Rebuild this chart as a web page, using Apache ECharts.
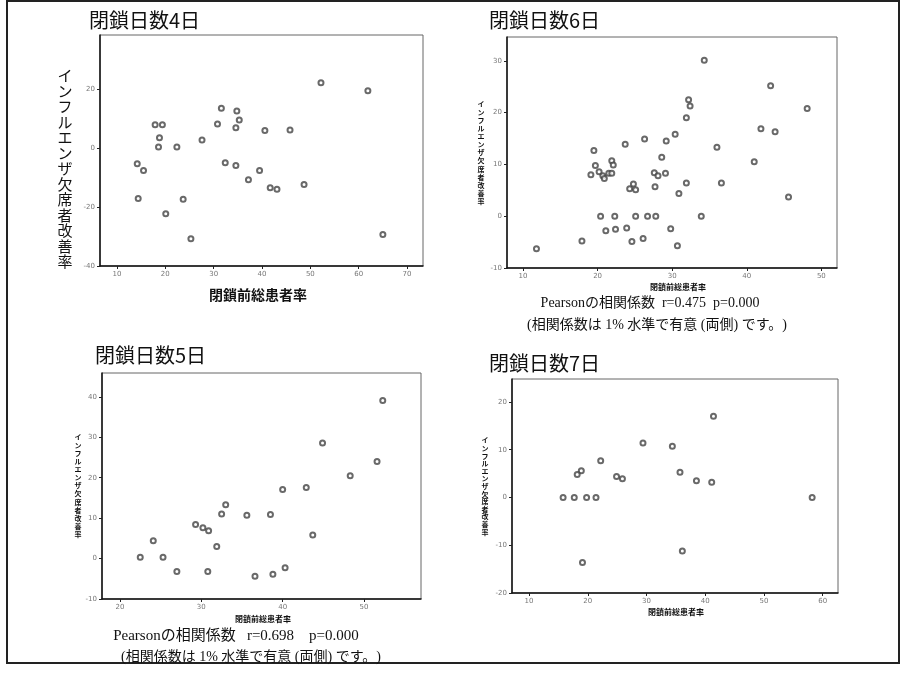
<!DOCTYPE html>
<html><head><meta charset="utf-8">
<script src="https://cdn.jsdelivr.net/npm/echarts@6/dist/echarts.min.js"></script>
<style>html,body{margin:0;padding:0;background:#fff}#c{width:906px;height:675px}</style>
</head><body><div id="c"></div>
<script>
// ---- data ----
const titles = ['閉鎖日数4日', '閉鎖日数6日', '閉鎖日数5日', '閉鎖日数7日'];
const yName = 'インフルエンザ欠席者改善率';
const xName = '閉鎖前総患者率';
const pearson6 = 'Pearsonの相関係数  r=0.475  p=0.000';
const pearson5 = 'Pearsonの相関係数   r=0.698    p=0.000';
const signif = '(相関係数は 1% 水準で有意 (両側) です。)';

const day4X = [52.2, 61.9, 31.6, 34.8, 35.3, 17.9, 19.4, 30.8, 34.6, 40.6, 45.8, 18.8, 27.6, 18.6, 22.4, 14.2, 15.5, 32.4, 34.6, 39.5, 37.2, 41.7, 43.1, 48.7, 14.4, 23.7, 20.1, 25.3, 65.0];
const day4Y = [22.1, 19.4, 13.5, 12.5, 9.5, 7.9, 7.9, 8.1, 6.9, 5.9, 6.1, 3.5, 2.7, 0.3, 0.3, -5.3, -7.6, -5.0, -5.9, -7.6, -10.8, -13.5, -14.0, -12.4, -17.1, -17.4, -22.3, -30.8, -29.3];
const day4XTicks = [10, 20, 30, 40, 50, 60, 70];
const day4YTicks = [-40, -20, 0, 20];

const day6X = [34.3, 43.2, 32.2, 32.4, 48.1, 31.9, 41.9, 43.8, 30.4, 26.3, 23.7, 29.2, 36.0, 19.5, 28.6, 21.9, 19.7, 22.1, 41.0, 19.1, 20.2, 20.7, 21.5, 21.9, 20.9, 27.6, 28.1, 29.1, 31.9, 36.6, 24.8, 24.3, 25.1, 27.7, 30.9, 45.6, 20.4, 22.3, 25.1, 26.7, 27.8, 33.9, 21.1, 22.4, 23.9, 29.8, 17.9, 24.6, 26.1, 30.7, 11.8];
const day6Y = [30.1, 25.2, 22.5, 21.3, 20.8, 19.0, 16.9, 16.3, 15.8, 14.9, 13.9, 14.5, 13.3, 12.7, 11.4, 10.7, 9.8, 9.9, 10.5, 8.0, 8.6, 7.8, 8.3, 8.3, 7.3, 8.4, 7.8, 8.3, 6.4, 6.4, 6.2, 5.3, 5.1, 5.7, 4.4, 3.7, 0, 0, 0, 0, 0, 0, -2.8, -2.5, -2.3, -2.4, -4.8, -4.9, -4.3, -5.7, -6.3];
const day6XTicks = [10, 20, 30, 40, 50];
const day6YTicks = [-10, 0, 10, 20, 30];

const day5X = [52.3, 44.9, 51.6, 48.3, 40.0, 42.9, 33.0, 32.5, 35.6, 38.5, 29.3, 30.2, 30.9, 43.7, 24.1, 31.9, 22.5, 25.3, 27.0, 30.8, 36.6, 38.8, 40.3];
const day5Y = [39.1, 28.6, 24.0, 20.5, 17.1, 17.6, 13.3, 11.0, 10.7, 10.9, 8.4, 7.6, 6.9, 5.8, 4.4, 3.0, 0.3, 0.3, -3.2, -3.2, -4.4, -3.9, -2.3];
const day5XTicks = [20, 30, 40, 50];
const day5YTicks = [-10, 0, 10, 20, 30, 40];

const day7X = [41.4, 29.4, 34.4, 22.2, 18.9, 18.2, 24.9, 25.9, 35.7, 38.5, 41.1, 15.8, 17.7, 19.8, 21.4, 58.2, 36.1, 19.1];
const day7Y = [17.0, 11.4, 10.7, 7.7, 5.6, 4.8, 4.4, 3.9, 5.3, 3.5, 3.2, 0, 0, 0, 0, 0, -11.2, -13.6];
const day7XTicks = [10, 20, 30, 40, 50, 60];
const day7YTicks = [-20, -10, 0, 10, 20];

// ---- layout ----
const panels = [
  {x: day4X, y: day4Y, xt: day4XTicks, yt: day4YTicks, grid: {left: 100, top: 35, width: 323, height: 231}, xr: [6.5, 73.3], yr: [-40, 38.3], title: [84, 5]},
  {x: day6X, y: day6Y, xt: day6XTicks, yt: day6YTicks, grid: {left: 507, top: 37, width: 330, height: 231}, xr: [7.85, 52.1], yr: [-10, 34.6], title: [484, 5]},
  {x: day5X, y: day5Y, xt: day5XTicks, yt: day5YTicks, grid: {left: 102, top: 373, width: 319, height: 226}, xr: [17.8, 57.0], yr: [-10, 45.9], title: [90, 340]},
  {x: day7X, y: day7Y, xt: day7XTicks, yt: day7YTicks, grid: {left: 512, top: 379, width: 326, height: 214}, xr: [7.1, 62.6], yr: [-20, 24.8], title: [484, 348]}
];

const axisCommon = (ticks) => ({
  type: 'value',
  splitLine: {show: false},
  axisLine: {show: true, onZero: false, lineStyle: {color: '#111', width: 1.5}},
  axisTick: {show: true, length: 3, lineStyle: {color: '#222'}, customValues: ticks},
  axisLabel: {show: true, fontSize: 7, color: '#777', margin: 5, customValues: ticks, fontFamily: 'DejaVu Sans'}
});

const grids = [], xAxes = [], yAxes = [], series = [], title = [];
panels.forEach((p, i) => {
  grids.push(Object.assign({show: true, borderColor: '#666', borderWidth: 1, backgroundColor: 'transparent'}, p.grid));
  xAxes.push(Object.assign(axisCommon(p.xt), {gridIndex: i, min: p.xr[0], max: p.xr[1]}));
  yAxes.push(Object.assign(axisCommon(p.yt), {gridIndex: i, min: p.yr[0], max: p.yr[1]}));
  series.push({
    type: 'scatter', xAxisIndex: i, yAxisIndex: i,
    symbol: 'emptyCircle', symbolSize: 5,
    itemStyle: {color: '#444', borderWidth: 1},
    data: p.x.map((v, k) => [v, p.y[k]])
  });
  title.push({text: titles[i], left: p.title[0], top: p.title[1],
    textStyle: {fontSize: 20, fontWeight: 'normal', color: '#111', fontFamily: 'Noto Sans CJK JP'}});
});

const vText = (x, y, size, lh, bold) => ({
  type: 'text', x: x, y: y,
  style: {text: yName.split('').join('\n'), fill: '#111', align: 'center', verticalAlign: 'top',
    font: (bold ? 'bold ' : '') + size + 'px "Noto Sans CJK JP"', lineHeight: lh}
});
const hText = (txt, x, y, size, opts) => ({
  type: 'text', x: x, y: y,
  style: Object.assign({text: txt, fill: '#111', align: 'center', verticalAlign: 'middle',
    font: size + 'px "Liberation Serif", "Noto Sans CJK JP"'}, opts || {})
});

const graphic = [
  {type: 'rect', shape: {x: 7, y: 1, width: 892, height: 662}, style: {fill: 'none', stroke: '#222', lineWidth: 2}},
  vText(65, 68, 15, 15.5, false),
  vText(481, 100, 7, 8.1, true),
  vText(78, 433, 7, 8.1, true),
  vText(485, 437, 7, 7.6, true),
  hText(xName, 258, 295, 14, {font: 'bold 14px "Noto Sans CJK JP"'}),
  hText(xName, 678, 287, 8, {font: 'bold 8px "Noto Sans CJK JP"'}),
  hText(xName, 263, 619, 8, {font: 'bold 8px "Noto Sans CJK JP"'}),
  hText(xName, 676, 612, 8, {font: 'bold 8px "Noto Sans CJK JP"'}),
  hText(pearson6, 650, 303, 14),
  hText(signif, 657, 325, 14),
  hText(pearson5, 236, 636, 15),
  hText(signif, 251, 657, 14)
];

const chart = echarts.init(document.getElementById('c'));
chart.setOption({
  animation: false,
  backgroundColor: '#fff',
  title: title,
  grid: grids,
  xAxis: xAxes,
  yAxis: yAxes,
  series: series,
  graphic: graphic
});
</script></body></html>
